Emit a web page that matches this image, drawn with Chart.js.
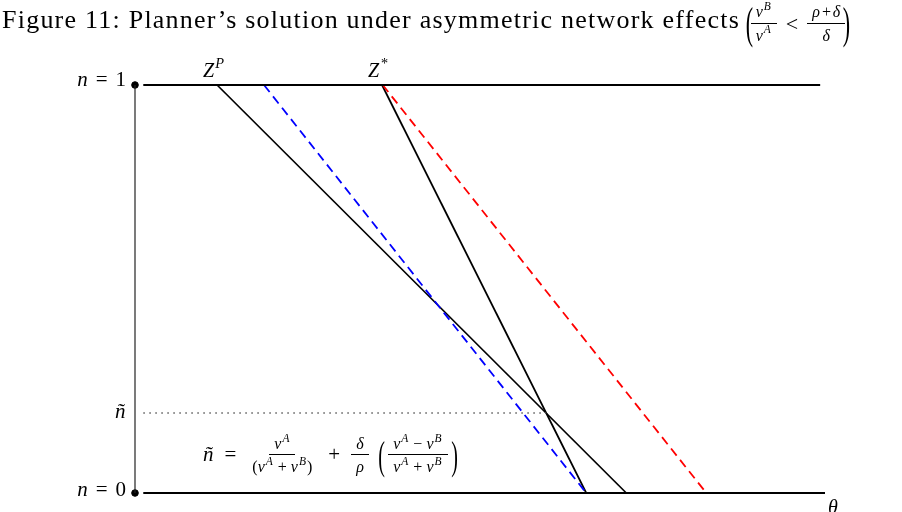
<!DOCTYPE html>
<html>
<head>
<meta charset="utf-8">
<script src="https://cdn.jsdelivr.net/npm/chart.js@4.4.0/dist/chart.umd.min.js"></script>
<style>
  html, body { margin: 0; padding: 0; background: #fff; }
  #wrap { position: relative; width: 902px; height: 512px; overflow: hidden; font-family: 'Liberation Serif', 'DejaVu Serif', serif; color: #000; }
  canvas { position: absolute; left: 0; top: 0; }
  .lbl { position: absolute; white-space: nowrap; line-height: 1; }
  .it { font-style: italic; }
  .frac { display: inline-flex; flex-direction: column; align-items: center; vertical-align: middle; line-height: 1.15; }
  .frac .num { padding: 0 5px 1px; border-bottom: 1px solid #000; }
  .frac .den { padding: 3px 5px 0; }
  sup { font-size: 0.72em; line-height: 0; position: relative; top: -0.1em; margin-left: 1px; margin-right: 1px; }
  .paren { display: inline-block; vertical-align: middle; }
  .eq { margin: 0 7px; }
  .op { margin: 0 4px; }
</style>
</head>
<body>
<div id="wrap">
  <canvas id="chart" width="902" height="512"></canvas>

  <div class="lbl" style="left:2px; top:7px; font-size:22px;">
    <span id="titleText" style="display:inline-block; vertical-align:middle;">Figure 11: Planner’s solution under asymmetric network effects</span>
  </div>
  <div class="lbl" style="left:746px; top:2px; font-size:16px;">
    <span class="paren" style="font-size:44px; transform:scaleX(0.5); margin:0 -6px 0 -4px;">(</span><span class="frac"><span class="num it">ν<sup>B</sup></span><span class="den it">ν<sup>A</sup></span></span><span class="eq" style="font-size:22px; vertical-align:middle; margin:0 9px;">&lt;</span><span class="frac"><span class="num it">ρ<span style="margin:0 1px;">+</span>δ</span><span class="den it">δ</span></span><span class="paren" style="font-size:44px; transform:scaleX(0.5); margin:0 -6px 0 -6px;">)</span>
  </div>

  <div class="lbl" style="right:776px; top:69px; font-size:21px;"><span class="it">n</span><span class="eq" style="margin:0 8px;">=</span>1</div>
  <div class="lbl it" style="left:203px; top:60px; font-size:20px;">Z<sup>P</sup></div>
  <div class="lbl it" style="left:368px; top:60px; font-size:20px;">Z<sup>*</sup></div>
  <div class="lbl it" style="left:115px; top:401px; font-size:21px;">ñ</div>
  <div class="lbl" style="right:776px; top:479px; font-size:21px;"><span class="it">n</span><span class="eq" style="margin:0 8px;">=</span>0</div>
  <div class="lbl it" style="left:828px; top:497px; font-size:20px;">θ</div>

  <div class="lbl" id="formula" style="left:203px; top:435px; font-size:21px;">
    <span class="it">ñ</span><span class="eq" style="margin:0 11px;">=</span><span class="frac" style="font-size:16px;"><span class="num it">ν<sup>A</sup></span><span class="den">(<span class="it">ν<sup>A</sup></span><span class="op">+</span><span class="it">ν<sup>B</sup></span>)</span></span><span class="eq" style="margin:0 11px;">+</span><span class="frac" style="font-size:16px;"><span class="num it">δ</span><span class="den it">ρ</span></span><span class="paren" style="font-size:40px; transform:scaleX(0.5); margin:0 0 0 6px;">(</span><span class="frac" style="font-size:16px;"><span class="num"><span class="it">ν<sup>A</sup></span><span class="op">−</span><span class="it">ν<sup>B</sup></span></span><span class="den"><span class="it">ν<sup>A</sup></span><span class="op">+</span><span class="it">ν<sup>B</sup></span></span></span><span class="paren" style="font-size:40px; transform:scaleX(0.5); margin:0 -5px 0 0;">)</span>
  </div>
</div>

<script>
// share of theta axis (0 = vertical axis, 1 = right end), n from 0 to 1
const nEnds = [1, 0];
const zpTheta = [0.119, 0.712];
const zStarTheta = [0.358, 0.654];
const bluePlannerTheta = [0.187, 0.654];
const redMarketTheta = [0.359, 0.828];
const topRuleTheta = [0.012, 0.993];
const bottomRuleTheta = [0.012, 1.0];
const nTilde = 0.196;
const nTildeTheta = [0.012, 0.596];

function pairs(xs, ys) {
  return xs.map((x, i) => ({ x: x, y: ys[i] }));
}

function lineSet(data, color, width, dash) {
  return {
    data: data,
    showLine: true,
    borderColor: color,
    borderWidth: width,
    borderDash: dash || [],
    pointRadius: 0,
    fill: false,
    clip: false,
  };
}

const ctx = document.getElementById('chart').getContext('2d');
new Chart(ctx, {
  type: 'scatter',
  data: {
    datasets: [
      lineSet(pairs([0, 0], [0, 1]), '#222', 1.2),
      lineSet(pairs(topRuleTheta, [1, 1]), '#000', 2),
      lineSet(pairs(bottomRuleTheta, [0, 0]), '#000', 2),
      lineSet(pairs(nTildeTheta, [nTilde, nTilde]), '#666', 1.4, [1.6, 4.4]),
      lineSet(pairs(bluePlannerTheta, nEnds), '#0000ff', 1.8, [9, 5.5]),
      lineSet(pairs(redMarketTheta, nEnds), '#ff0000', 1.8, [9, 5.5]),
      lineSet(pairs(zpTheta, nEnds), '#000', 1.7),
      lineSet(pairs(zStarTheta, nEnds), '#000', 1.7),
      {
        data: pairs([0, 0], [0, 1]),
        showLine: false,
        pointRadius: 3.3,
        pointBackgroundColor: '#000',
        pointBorderColor: '#000',
        clip: false,
      },
    ],
  },
  options: {
    responsive: false,
    animation: false,
    layout: { padding: { left: 135, right: 77, top: 85, bottom: 19 } },
    plugins: { legend: { display: false }, tooltip: { enabled: false } },
    scales: {
      x: { type: 'linear', min: 0, max: 1, display: false },
      y: { type: 'linear', min: 0, max: 1, display: false },
    },
  },
});

// grow the title to the width it takes in the reference: size first, then a little spacing
const tt = document.getElementById('titleText');
const txt = tt.textContent;
let w = tt.getBoundingClientRect().width;
const size = Math.min(26, 22 * 738 / w);
tt.style.fontSize = size + 'px';
w = tt.getBoundingClientRect().width;
tt.style.letterSpacing = Math.max(0, (738 - w) / txt.length) + 'px';
</script>
</body>
</html>
